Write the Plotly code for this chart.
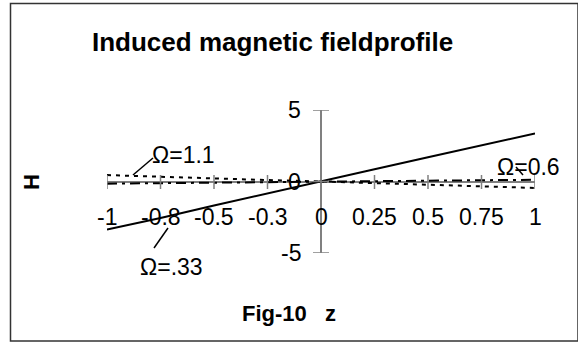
import plotly.graph_objects as go

# ---- data ----
z_vals = [-1, -0.75, -0.5, -0.25, 0, 0.25, 0.5, 0.75, 1]
z_labels = ["-1", "-0.8", "-0.5", "-0.3", "0", "0.25", "0.5", "0.75", "1"]
y_ticks = [5, 0, -5]
y_labels = ["5", "0", "-5"]
H_033 = [-3.36, -2.55, -1.68, -0.85, 0, 0.86, 1.70, 2.52, 3.36]
H_11 = [0.45, 0.32, 0.22, 0.1, 0, -0.12, -0.22, -0.33, -0.45]
H_06 = [-0.15, -0.11, -0.07, -0.03, 0, 0.03, 0.06, 0.09, 0.12]

W, Hh = 578, 347
L, R, T, B = 107, 535, 110, 253  # plot area in pixels

def px(p):
    return (p - L) / (R - L)

def py(p):
    return (B - p) / (B - T)

FONT = "Arial, Liberation Sans, sans-serif"

fig = go.Figure()
fig.add_trace(go.Scatter(x=z_vals, y=H_033, mode="lines",
                         line=dict(color="black", width=2), name="Ω=.33"))
fig.add_trace(go.Scatter(x=z_vals, y=H_11, mode="lines",
                         line=dict(color="black", width=2, dash="4px,5px"), name="Ω=1.1"))
fig.add_trace(go.Scatter(x=z_vals, y=H_06, mode="lines",
                         line=dict(color="black", width=2, dash="10px,5px,3px,5px"), name="Ω=0.6"))

shapes = []
# cross tick marks on x axis
for v in z_vals:
    shapes.append(dict(type="line", xref="x", yref="paper", x0=v, x1=v,
                       y0=py(189), y1=py(175), line=dict(color="#808080", width=1.5)))
# cross tick marks on y axis
for v in y_ticks:
    shapes.append(dict(type="line", xref="paper", yref="y", x0=px(313), x1=px(329),
                       y0=v, y1=v, line=dict(color="#808080", width=1.5)))
# leader lines
shapes.append(dict(type="line", xref="paper", yref="paper", x0=px(153), y0=py(158),
                   x1=px(133), y1=py(175), line=dict(color="black", width=1.5)))
shapes.append(dict(type="line", xref="paper", yref="paper", x0=px(168), y0=py(228),
                   x1=px(154), y1=py(248), line=dict(color="black", width=1.5)))
shapes.append(dict(type="line", xref="paper", yref="paper", x0=px(516), y0=py(167),
                   x1=px(523), y1=py(175), line=dict(color="black", width=1.5)))
# chart border
shapes.append(dict(type="rect", xref="paper", yref="paper", x0=px(10.5), y0=py(3.5),
                   x1=px(578), y1=py(341), line=dict(color="#333333", width=1.5)))

ann = []
for v, t in zip(z_vals, z_labels):
    ann.append(dict(x=v, y=py(217), xref="x", yref="paper", text=t, showarrow=False,
                    xanchor="center", yanchor="middle", font=dict(size=23, color="black", family=FONT)))
for v, t in zip(y_ticks, y_labels):
    ann.append(dict(x=px(303), y=v, xref="paper", yref="y", text=t, showarrow=False,
                    xanchor="right", yanchor="middle", font=dict(size=23, color="black", family=FONT)))
ann.append(dict(x=px(272), y=py(42), xref="paper", yref="paper", text="<b>Induced magnetic fieldprofile</b>",
                showarrow=False, xanchor="center", yanchor="middle",
                font=dict(size=26, color="black", family=FONT)))
ann.append(dict(x=px(289), y=py(313), xref="paper", yref="paper", text="<b>Fig-10   z</b>",
                showarrow=False, xanchor="center", yanchor="middle",
                font=dict(size=22, color="black", family=FONT)))
ann.append(dict(x=px(31), y=py(182), xref="paper", yref="paper", text="<b>H</b>", textangle=-90,
                showarrow=False, xanchor="center", yanchor="middle",
                font=dict(size=22, color="black", family=FONT)))
ann.append(dict(x=px(150), y=py(155), xref="paper", yref="paper", text="Ω=1.1",
                showarrow=False, xanchor="left", yanchor="middle",
                font=dict(size=23, color="black", family=FONT)))
ann.append(dict(x=px(138), y=py(267), xref="paper", yref="paper", text="Ω=.33",
                showarrow=False, xanchor="left", yanchor="middle",
                font=dict(size=23, color="black", family=FONT)))
ann.append(dict(x=px(495), y=py(167), xref="paper", yref="paper", text="Ω=0.6",
                showarrow=False, xanchor="left", yanchor="middle",
                font=dict(size=23, color="black", family=FONT)))

fig.update_layout(
    width=W, height=Hh,
    margin=dict(l=L, r=W - R, t=T, b=Hh - B, pad=0),
    paper_bgcolor="white", plot_bgcolor="white",
    showlegend=False,
    shapes=shapes, annotations=ann,
    xaxis=dict(range=[-1, 1], showgrid=False, showticklabels=False, ticks="",
               zeroline=True, zerolinecolor="#808080", zerolinewidth=1.5, showline=False),
    yaxis=dict(range=[-5, 5], showgrid=False, showticklabels=False, ticks="",
               zeroline=True, zerolinecolor="#808080", zerolinewidth=1.5, showline=False),
)

fig.write_html("out.html", config={"displayModeBar": False},
               post_script="document.body.style.margin='0';document.body.style.overflow='hidden';")
